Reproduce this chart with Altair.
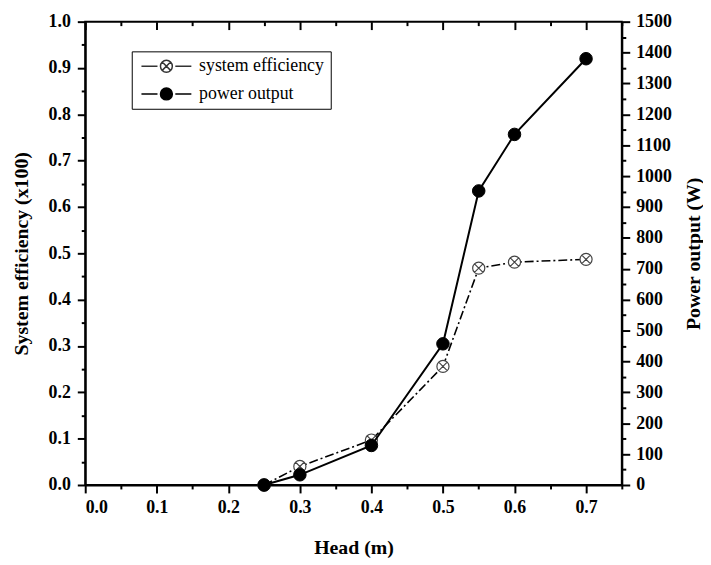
import altair as alt
import pandas as pd

# ---- data ----
head = [0.25, 0.3, 0.4, 0.5, 0.55, 0.6, 0.7]
efficiency = [0.0, 0.04, 0.097, 0.256, 0.468, 0.481, 0.487]
power = [0, 33, 128, 457, 952, 1135, 1380]
series_names = ["system efficiency", "power output"]

x_major = [0.0, 0.1, 0.2, 0.3, 0.4, 0.5, 0.6, 0.7]
x_minor = [0.05, 0.15, 0.25, 0.35, 0.45, 0.55, 0.65, 0.75]
eff_major = [0.0, 0.1, 0.2, 0.3, 0.4, 0.5, 0.6, 0.7, 0.8, 0.9, 1.0]
eff_minor = [0.05, 0.15, 0.25, 0.35, 0.45, 0.55, 0.65, 0.75, 0.85, 0.95]
pow_major = [0, 100, 200, 300, 400, 500, 600, 700, 800, 900, 1000, 1100, 1200, 1300, 1400, 1500]
pow_minor = [50, 150, 250, 350, 450, 550, 650, 750, 850, 950, 1050, 1150, 1250, 1350, 1450]

eff_df = pd.DataFrame({"head": head, "eff": efficiency, "series": series_names[0]})
pow_df = pd.DataFrame({"head": head, "power": power, "series": series_names[1]})
leg_df = pd.DataFrame({"head": [head[0], head[0]], "eff": [efficiency[0], efficiency[0]], "series": series_names})

W, H = 542, 468
FONT = "Liberation Serif"
CROSS = "M-1,0A1,1 0 1,1 1,0A1,1 0 1,1 -1,0Z M-0.7,-0.7L0.7,0.7 M-0.7,0.7L0.7,-0.7"
LEG_CROSS = "M-4.2,0L-1.5,0 M1.5,0L4.2,0 " + CROSS
LEG_DOT = "M-4.2,0L-1.5,0 M1.5,0L4.2,0 M-1,0A1,1 0 1,1 1,0A1,1 0 1,1 -1,0Z"

xs = alt.Scale(domain=[0, 0.75], nice=False, zero=False)
ys_eff = alt.Scale(domain=[0, 1], nice=False)
ys_pow = alt.Scale(domain=[0, 1500], nice=False)

common_axis = dict(tickWidth=2, domainWidth=2, domainColor="black", tickColor="black",
                   labelFont=FONT, labelFontSize=18, labelFontWeight="bold", labelColor="black",
                   titleFont=FONT, titleFontSize=20, titleFontWeight="bold", titleColor="black",
                   grid=False)
minor_common = dict(labels=False, title=None, tickSize=4, domain=False, tickWidth=2,
                    tickColor="black", grid=False)

x_major_axis = alt.Axis(values=x_major, format=".1f", title="Head (m)", orient="bottom",
                        tickSize=8, labelPadding=6, titlePadding=21, **common_axis)
x_minor_axis = alt.Axis(values=x_minor, orient="bottom", **minor_common)
# top frame ticks pointing inward (bottom axes moved up to the top edge)
x_top_major = alt.Axis(values=x_major, orient="bottom", offset=-H, labels=False, title=None,
                       tickSize=8, domain=False, tickWidth=2, tickColor="black", grid=False)
x_top_minor = alt.Axis(values=x_minor, orient="bottom", offset=-H, **minor_common)

y_eff_axis = alt.Axis(values=eff_major, format=".1f", title="System efficiency (x100)", orient="left",
                      tickSize=8, labelPadding=7, titlePadding=17, **common_axis)
y_eff_minor = alt.Axis(values=eff_minor, orient="left", **minor_common)
y_pow_axis = alt.Axis(values=pow_major, format="d", title="Power output (W)", orient="right",
                      tickSize=8, labelPadding=6, titlePadding=12, titleAngle=270, titleBaseline="top",
                      **common_axis)
y_pow_minor = alt.Axis(values=pow_minor, orient="right", **minor_common)

legend = alt.Legend(
    title=None, orient="none", legendX=47, legendY=30,
    strokeColor="black", fillColor="white", padding=6,
    labelFont=FONT, labelFontSize=18, labelColor="black",
    symbolSize=144, symbolStrokeWidth=1.5, symbolOffset=20, labelOffset=24, rowPadding=10,
    symbolOpacity=1,
)

eff_line = alt.Chart(eff_df).mark_line(color="black", strokeWidth=1.6, strokeDash=[9, 3, 2, 3]).encode(
    x=alt.X("head:Q", scale=xs, axis=x_major_axis),
    y=alt.Y("eff:Q", scale=ys_eff, axis=y_eff_axis),
)
eff_pts = alt.Chart(eff_df).mark_point(shape=CROSS, filled=True, fill="white", stroke="#444444",
                                       size=150, strokeWidth=1.2, opacity=1).encode(
    x=alt.X("head:Q", scale=xs, axis=x_minor_axis),
    y=alt.Y("eff:Q", scale=ys_eff, axis=y_eff_minor),
)
pow_line = alt.Chart(pow_df).mark_line(color="black", strokeWidth=2).encode(
    x=alt.X("head:Q", scale=xs, axis=x_top_major),
    y=alt.Y("power:Q", scale=ys_pow, axis=y_pow_axis),
)
pow_pts = alt.Chart(pow_df).mark_point(shape="circle", filled=True, fill="black", stroke="black",
                                       size=160, strokeWidth=1, opacity=1).encode(
    x=alt.X("head:Q", scale=xs, axis=x_top_minor),
    y=alt.Y("power:Q", scale=ys_pow, axis=y_pow_minor),
)
# invisible layer that only supplies the legend
leg_layer = alt.Chart(leg_df).mark_point(filled=True, opacity=0).encode(
    x=alt.X("head:Q", scale=xs, axis=None),
    y=alt.Y("eff:Q", scale=ys_eff, axis=None),
    shape=alt.Shape("series:N", scale=alt.Scale(domain=series_names, range=[LEG_CROSS, LEG_DOT]), legend=legend),
    fill=alt.Fill("series:N", scale=alt.Scale(domain=series_names, range=["white", "black"])),
    stroke=alt.Stroke("series:N", scale=alt.Scale(domain=series_names, range=["#333333", "black"])),
)

chart = alt.layer(eff_line, eff_pts, pow_line, pow_pts, leg_layer).resolve_scale(
    x="independent", y="independent"
).properties(
    width=W, height=H,
    autosize=alt.AutoSizeParams(type="none"),
    padding={"left": 78, "top": 11, "right": 82, "bottom": 76},
    background="white",
).configure_view(stroke="black", strokeWidth=2)

chart.save("out.html", embed_options={"renderer": "svg", "actions": False})
